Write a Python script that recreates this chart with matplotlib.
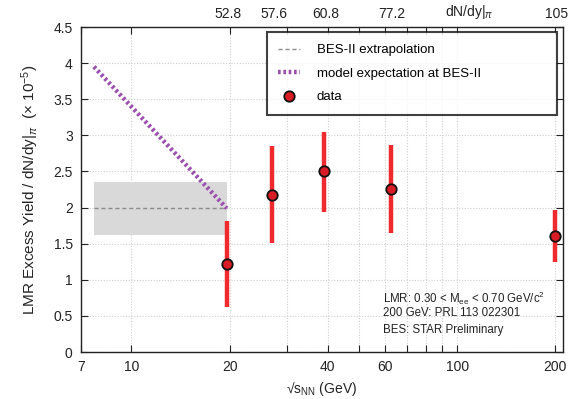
import matplotlib
matplotlib.use("Agg")
import matplotlib.pyplot as plt
from matplotlib.ticker import FixedLocator, NullLocator, FixedFormatter
import matplotlib.transforms as mtransforms

plt.rcParams['font.family'] = ['Liberation Sans', 'DejaVu Sans']
plt.rcParams['mathtext.fontset'] = 'custom'
plt.rcParams['mathtext.rm'] = 'Liberation Sans'
plt.rcParams['mathtext.it'] = 'Liberation Sans:italic'

# data
energies = [19.6, 27, 39, 62.4, 200]
yields = [1.22, 2.18, 2.50, 2.26, 1.61]
err_low = [0.60, 0.67, 0.56, 0.61, 0.37]
err_high = [0.60, 0.67, 0.54, 0.60, 0.36]
dndy_labels = ["52.8", "57.6", "60.8", "77.2", "105"]

bes2_x = [7.67, 19.6]
bes2_level = [1.99, 1.99]
bes2_band_low = 1.62
bes2_band_high = 2.35
model_y = [3.95, 1.99]

xticks = [7, 10, 20, 30, 40, 50, 60, 70, 80, 90, 100, 200]
xticklabels = ["7", "10", "20", "", "40", "", "60", "", "", "", "100", "200"]
yticks = [0, 0.5, 1, 1.5, 2, 2.5, 3, 3.5, 4, 4.5]
yticklabels = ["0", "0.5", "1", "1.5", "2", "2.5", "3", "3.5", "4", "4.5"]

fig = plt.figure(figsize=(5.70, 3.99), dpi=100)
ax = fig.add_axes([81/570, 1 - 352/399, (563 - 81)/570, (352 - 27)/399])

ax.set_xscale('log')
ax.set_xlim(7, 211)
ax.set_ylim(0, 4.5)

ax.xaxis.set_major_locator(FixedLocator(xticks))
ax.xaxis.set_major_formatter(FixedFormatter(xticklabels))
ax.xaxis.set_minor_locator(NullLocator())
ax.yaxis.set_major_locator(FixedLocator(yticks))
ax.yaxis.set_major_formatter(FixedFormatter(yticklabels))

ax.grid(True, which='major', linestyle=(0, (1, 1.5)), color='#cfcfcf', linewidth=0.8)
ax.set_axisbelow(True)
ax.tick_params(direction='in', top=True, right=True, length=5, width=0.8,
               labelsize=10, colors='#222222', pad=6)
for s in ax.spines.values():
    s.set_linewidth(1.0)
    s.set_color('#222222')

# band and lines
ax.fill_between(bes2_x, [bes2_band_low] * 2, [bes2_band_high] * 2,
                color='#d9d9d9', linewidth=0, zorder=1)
ax.plot(bes2_x, bes2_level, linestyle=(0, (3, 2)), color='#8c8c8c', linewidth=1.0,
        label='BES-II extrapolation', zorder=2)
ax.plot(bes2_x, model_y, linestyle=(0, (0.6, 0.6)), color='#9b4fae', linewidth=3.2,
        label='model expectation at BES-II', zorder=3)

ax.errorbar(energies, yields, yerr=[err_low, err_high], fmt='none',
            ecolor='#ee2a2f', elinewidth=3.2, capsize=0, zorder=4)
ax.plot(energies, yields, 'o', markersize=7.5, markerfacecolor='#d81e24',
        markeredgecolor='#111111', markeredgewidth=1.3, linestyle='none',
        label='data', zorder=5)

leg = ax.legend(loc='upper left', bbox_to_anchor=(0.385, 0.739, 0.602, 0.245),
                mode='expand', fontsize=9.5,
                frameon=True, fancybox=False, borderpad=0.9, labelspacing=0.85,
                handlelength=1.6, handletextpad=1.3, borderaxespad=0.0)
leg.get_frame().set_edgecolor('#111111')
leg.get_frame().set_linewidth(1.5)

# top dN/dy labels
trans = mtransforms.blended_transform_factory(ax.transData, ax.transAxes)
for e, lab in zip(energies, dndy_labels):
    ax.text(e * 1.01, 1.018, lab, transform=trans, ha='center', va='bottom',
            fontsize=10, color='#222222')
ax.text(109, 1.018, r'dN/dy$|_{\pi}$', transform=trans, ha='center', va='bottom',
        fontsize=10, color='#222222')

# annotation
ax.text(0.627, 0.166, r'LMR: 0.30 < M$_{\rm ee}$ < 0.70 GeV/c$^{2}$',
        transform=ax.transAxes, fontsize=8.3, color='#222222', va='center')
ax.text(0.627, 0.120, '200 GeV: PRL 113 022301',
        transform=ax.transAxes, fontsize=8.3, color='#222222', va='center')
ax.text(0.627, 0.068, 'BES: STAR Preliminary',
        transform=ax.transAxes, fontsize=8.3, color='#222222', va='center')

ax.set_xlabel('\u221as$_{\\rm NN}$ (GeV)', fontsize=10, color='#222222', labelpad=4)
ax.set_ylabel(r'LMR Excess Yield / dN/dy$|_{\pi}$  ($\times$ 10$^{-5}$)', fontsize=11,
              color='#222222', labelpad=9)

fig.savefig('out.png', dpi=100)
